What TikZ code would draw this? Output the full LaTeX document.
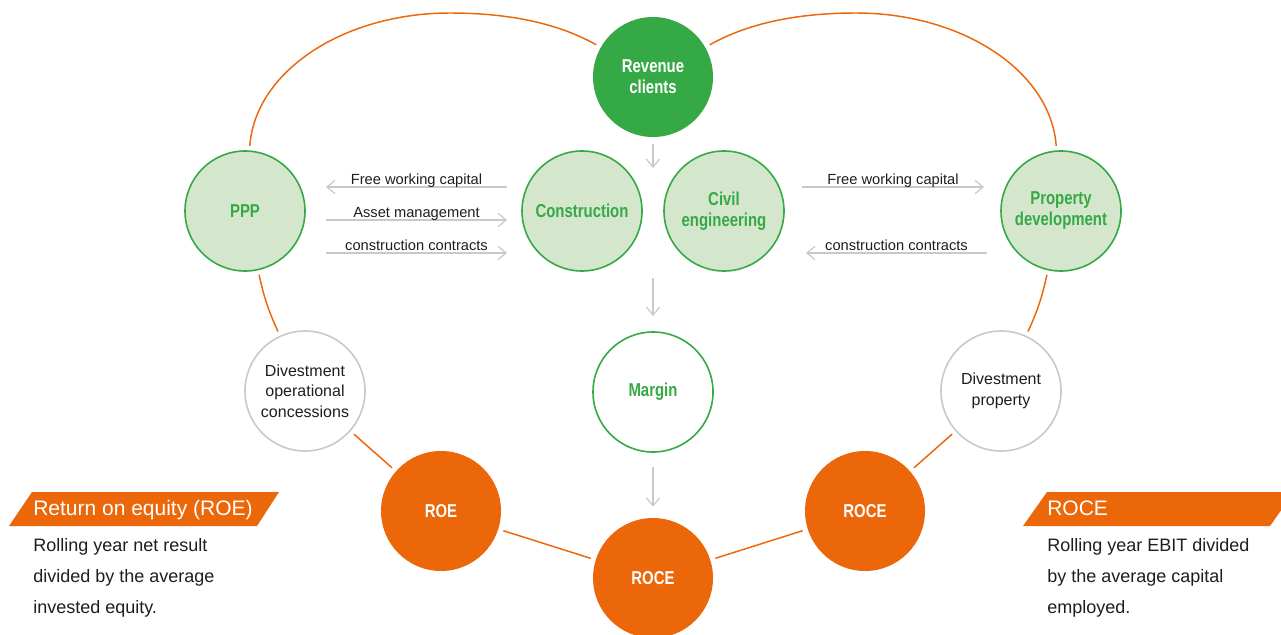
\documentclass[tikz,border=0pt]{standalone}
\usepackage{fontspec}
\setmainfont{Liberation Sans}
\newfontfamily\condfont[FakeStretch=0.8]{Liberation Sans}
\usetikzlibrary{arrows.meta}

\definecolor{skgreen}{HTML}{36A947}
\definecolor{skpale}{HTML}{D4E6CC}
\definecolor{skorange}{HTML}{EC6709}
\definecolor{skgrey}{HTML}{C9C9C9}
\definecolor{sktext}{HTML}{1E1E1E}

\begin{document}
\begin{tikzpicture}[x=0.75pt, y=-0.75pt,
    every node/.style={text=sktext},
    main node/.style={circle, minimum size=90pt, inner sep=0pt, outer sep=4pt, align=center,
                      line width=1.2pt, font=\condfont\bfseries\fontsize{14}{15.75}\selectfont},
    dark node/.style={main node, fill=skgreen, text=white},
    pale node/.style={main node, fill=skpale, draw=skgreen, text=skgreen},
    ring node/.style={main node, fill=white, draw=skgreen, text=skgreen},
    grey node/.style={main node, fill=white, draw=skgrey, font=\fontsize{12}{15.4}\selectfont},
    roe node/.style={main node, fill=skorange, text=white},
    loop line/.style={draw=skorange, line width=1.1pt},
    flow arrow/.style={draw=skgrey, line width=0.9pt, -{Straight Barb[length=6pt,width=10pt]}},
    flow label/.style={anchor=base, inner sep=0pt, yshift=2pt, font=\fontsize{11}{13}\selectfont},
    head text/.style={anchor=base west, inner sep=0pt, text=white, font=\fontsize{15.75}{18}\selectfont},
    body text/.style={anchor=north west, inner sep=0pt, align=left, font=\fontsize{13.5}{23.25}\selectfont}]

  \useasboundingbox (0,0) rectangle (1281,635);

  % circles
  \node[dark node] (rev) at (653,77) {Revenue\\clients};
  \node[pale node] (ppp) at (245,211) {PPP};
  \node[pale node] (constr) at (582,211) {Construction};
  \node[pale node] (civil) at (724,211) {Civil\\engineering};
  \node[pale node] (prop) at (1061,211) {Property\\development};
  \node[grey node] (divop) at (305,391) {Divestment\\operational\\concessions};
  \node[ring node] (margin) at (653,392) {Margin};
  \node[grey node] (divprop) at (1001,391) {Divestment\\property};
  \node[roe node] (roe) at (441,511) {ROE};
  \node[roe node] (rocer) at (865,511) {ROCE};
  \node[roe node] (roceb) at (653,578) {ROCE};

  % orange loop
  \coordinate (ltop) at (450,13);
  \coordinate (rtop) at (856,13);
  \draw[loop line] (rev) .. controls (555.6,21.8) and (504.3,13) .. (ltop)
                         .. controls (343.7,13) and (255.3,71.1) .. (ppp);
  \draw[loop line] (rev) .. controls (750.4,21.8) and (801.7,13) .. (rtop)
                         .. controls (962.3,13) and (1050.7,71.1) .. (prop);
  \draw[loop line] (ppp) to[bend right=6] (divop);
  \draw[loop line] (divop) -- (roe) -- (roceb) -- (rocer) -- (divprop);
  \draw[loop line] (divprop) to[bend right=6] (prop);

  % grey flows
  \coordinate (cgap) at (653,168);
  \coordinate (mtop) at (653,278);
  \draw[flow arrow, shorten <=1pt] (rev) -- (cgap);
  \draw[flow arrow, shorten >=8pt] (mtop) -- (margin);
  \draw[flow arrow, shorten <=7.5pt, shorten >=4.5pt] (margin) -- (roceb);

  \coordinate (l1) at (326,187);  \coordinate (r1) at (507,187);
  \coordinate (l2) at (326,220);  \coordinate (r2) at (507,220);
  \coordinate (l3) at (326,253);  \coordinate (r3) at (507,253);
  \coordinate (l4) at (802,187);  \coordinate (r4) at (984,187);
  \coordinate (l5) at (806,253);  \coordinate (r5) at (987,253);
  \draw[flow arrow] (r1) -- node[flow label] {Free working capital} (l1);
  \draw[flow arrow] (l2) -- node[flow label] {Asset management} (r2);
  \draw[flow arrow] (l3) -- node[flow label] {construction contracts} (r3);
  \draw[flow arrow] (l4) -- node[flow label] {Free working capital} (r4);
  \draw[flow arrow] (r5) -- node[flow label] {construction contracts} (l5);

  % key figures
  \fill[skorange] (9,526) -- (32,492) -- (279,492) -- (257,526) -- cycle;
  \node[head text] (roehead) at (33,515) {Return on equity (ROE)};
  \node[body text] (roebody) at (33,538) {Rolling year net result\\divided by the average\\invested equity.};

  \fill[skorange] (1023,526) -- (1047,492) -- (1294,492) -- (1270,526) -- cycle;
  \node[head text] (rocehead) at (1047,515) {ROCE};
  \node[body text] (rocebody) at (1047,538) {Rolling year EBIT divided\\by the average capital\\employed.};

\end{tikzpicture}
\end{document}
